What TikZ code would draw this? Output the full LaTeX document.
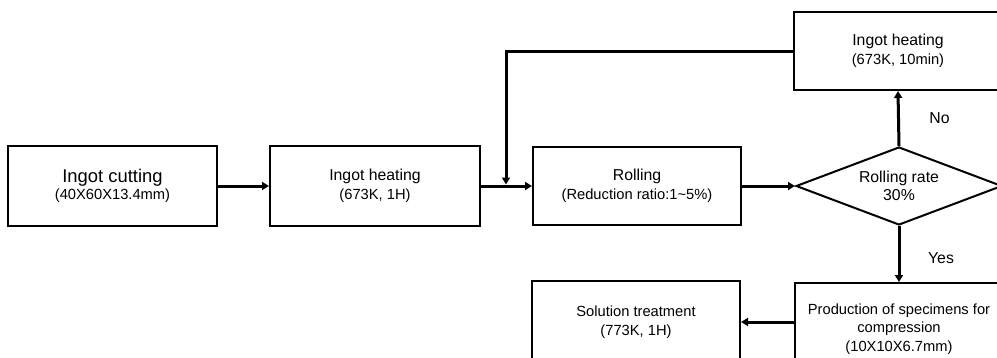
\documentclass[tikz,border=0pt]{standalone}
\usepackage{fontspec}
\setmainfont{Liberation Sans}
\usetikzlibrary{arrows.meta,shapes.geometric}
\newcommand{\tfont}{\fontsize{15.8}{19}\selectfont}
\newcommand{\sfontx}{\fontsize{14.7}{18.5}\selectfont}
\newcommand{\bfontx}{\fontsize{18.4}{19}\selectfont}
\begin{document}
\begin{tikzpicture}[x=1pt,y=-1pt,
  box/.style={draw=black, line width=2pt, minimum width=208pt, inner sep=0pt,
    align=center, font=\sfontx, text=black},
  arr/.style={line width=3pt, -{Triangle[length=7pt,width=8pt]}},
  lbl/.style={font=\tfont, text=black, inner sep=0pt}]
\clip (0,0) rectangle (997,357);
\useasboundingbox (0,0) rectangle (997,357);
\node[box, minimum width=209pt, minimum height=80pt] (cut) at (112.5,186)
  {{\bfontx Ingot cutting}\\[-1pt](40X60X13.4mm)};
\node[box, minimum width=210pt, minimum height=80pt] (heat) at (375,186)
  {{\tfont Ingot heating}\\(673K, 1H)};
\node[box, minimum height=78pt] (roll) at (637,186)
  {{\tfont Rolling}\\(Reduction ratio:1\textasciitilde5\%)};
\node[box, minimum height=78pt] (reheat) at (898,51)
  {{\tfont Ingot heating}\\(673K, 10min)};
\node[box, diamond, minimum width=206pt, minimum height=78pt, aspect=2.6] (rate) at (899,186)
  {{\tfont Rolling rate}\\{\tfont 30\%}};
\node[box, minimum height=92pt] (prod) at (899,329)
  {Production of specimens for\\compression\\(10X10X6.7mm)};
\node[box, minimum height=82pt] (sol) at (636,322)
  {Solution treatment\\(773K, 1H)};
\coordinate (fb) at (506,186);
\draw[arr] (cut.east) -- (heat.west);
\draw[arr] (heat.east) -- (roll.west);
\draw[arr, shorten >=1.5pt] (reheat.west) -| (fb);
\draw[arr] (roll.east) -- (rate.west);
\draw[arr] (rate.north) -- node[lbl, midway, xshift=41pt] {No} (reheat.south);
\draw[arr] (rate.south) -- node[lbl, midway, xshift=42pt, yshift=-4pt] {Yes} (prod.north);
\draw[arr] (prod.west |- sol.east) -- (sol.east);
\end{tikzpicture}
\end{document}
